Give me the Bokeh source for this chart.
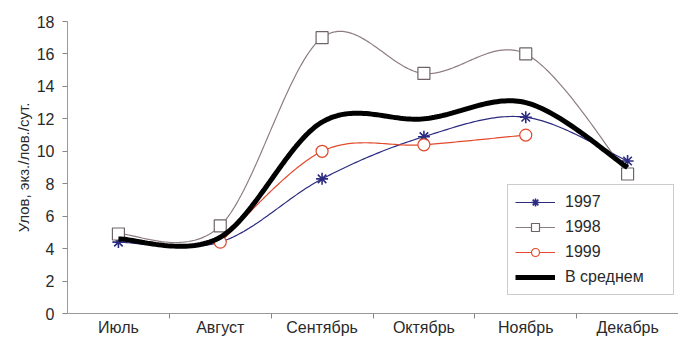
import numpy as np
from bokeh.plotting import figure
from bokeh.models import Range1d, FixedTicker, Legend, LegendItem
from bokeh.embed import file_html
from bokeh.resources import INLINE

months = ["Июль", "Август", "Сентябрь", "Октябрь", "Ноябрь", "Декабрь"]
y1997 = [4.4, 4.4, 8.3, 10.9, 12.1, 9.4]
y1998 = [4.9, 5.4, 17.0, 14.8, 16.0, 8.6]
y1999 = [None, 4.4, 10.0, 10.4, 11.0, None]
avg = [4.6, 4.7, 11.8, 12.0, 13.0, 9.0]
y_ticks = [0, 2, 4, 6, 8, 10, 12, 14, 16, 18]
y_label = "Улов, экз./лов./сут."
names = ["1997", "1998", "1999", "В среднем"]

FONT = "Liberation Sans"


def present(ys):
    xs = [i for i, v in enumerate(ys) if v is not None]
    vs = [v for v in ys if v is not None]
    return xs, vs


def smooth(ys, n=40):
    """Excel-like smoothed line: cubic Bezier with Catmull-Rom control points."""
    xs, vs = present(ys)
    P = [np.array([float(x), float(v)]) for x, v in zip(xs, vs)]
    xs_out, ys_out = [], []
    m = len(P)
    for i in range(m - 1):
        p0 = P[i - 1] if i > 0 else P[i]
        p1 = P[i]
        p2 = P[i + 1]
        p3 = P[i + 2] if i + 2 < m else P[i + 1]
        c1 = p1 + (p2 - p0) / 6.0
        c2 = p2 - (p3 - p1) / 6.0
        t = np.linspace(0, 1, n)[:, None]
        b = ((1 - t) ** 3) * p1 + 3 * ((1 - t) ** 2) * t * c1 + 3 * (1 - t) * t ** 2 * c2 + t ** 3 * p2
        if i > 0:
            b = b[1:]
        xs_out.extend(b[:, 0].tolist())
        ys_out.extend(b[:, 1].tolist())
    return xs_out, ys_out


p = figure(width=678, height=338, output_backend="svg", toolbar_location=None,
           x_range=Range1d(-0.5, 5.5), y_range=Range1d(0, 18),
           min_border_left=67, min_border_right=0, min_border_top=21, min_border_bottom=24)
p.outline_line_color = None
p.xgrid.visible = False
p.ygrid.visible = False
p.background_fill_color = "white"
p.border_fill_color = "white"

# x axis
p.xaxis.ticker = FixedTicker(ticks=list(range(len(months))),
                             minor_ticks=[i + 0.5 for i in range(len(months) - 1)])
p.xaxis.major_label_overrides = {i: m for i, m in enumerate(months)}
p.xaxis.major_tick_line_color = None
p.xaxis.major_tick_out = 0
p.xaxis.major_tick_in = 0
p.xaxis.minor_tick_out = 5
p.xaxis.minor_tick_in = 0
p.xaxis.minor_tick_line_color = "#888888"
p.xaxis.axis_line_color = "#9a9a9a"
p.xaxis.major_label_text_font = FONT
p.xaxis.major_label_text_font_size = "16px"
p.xaxis.major_label_text_color = "#2a2a2a"
p.xaxis.major_label_standoff = 0

# y axis
p.yaxis.ticker = FixedTicker(ticks=y_ticks)
p.yaxis.minor_tick_line_color = None
p.yaxis.major_tick_out = 5
p.yaxis.major_tick_in = 0
p.yaxis.major_tick_line_color = "#888888"
p.yaxis.axis_line_color = "#9a9a9a"
p.yaxis.major_label_text_font = FONT
p.yaxis.major_label_text_font_size = "16px"
p.yaxis.major_label_text_color = "#2a2a2a"
p.yaxis.major_label_standoff = 8
p.yaxis.axis_label = y_label
p.yaxis.axis_label_text_font = FONT
p.yaxis.axis_label_text_font_size = "15px"
p.yaxis.axis_label_text_font_style = "normal"
p.yaxis.axis_label_text_color = "#2a2a2a"
p.yaxis.axis_label_standoff = 2

c97 = "#2b2b80"
c98 = "#8e7c84"
c99 = "#e2492c"

x97, s97 = smooth(y1997)
x98, s98 = smooth(y1998)
x99, s99 = smooth(y1999)
xav, sav = smooth(avg)

px97, pv97 = present(y1997)
px98, pv98 = present(y1998)
px99, pv99 = present(y1999)

l97 = p.line(x97, s97, line_color=c97, line_width=1.2)
m97 = p.scatter(px97, pv97, marker="asterisk", size=12, line_color=c97, line_width=1.6)
l98 = p.line(x98, s98, line_color=c98, line_width=1.2)
m98 = p.scatter(px98, pv98, marker="square", size=12,
                fill_color="white", line_color="#6e6466", line_width=1.2)
l99 = p.line(x99, s99, line_color=c99, line_width=1.2)
m99 = p.scatter(px99, pv99, marker="circle", size=12,
                fill_color="white", line_color=c99, line_width=1.2)
lav = p.line(xav, sav, line_color="black", line_width=5)

legend = Legend(items=[
    LegendItem(label=names[0], renderers=[l97, m97]),
    LegendItem(label=names[1], renderers=[l98, m98]),
    LegendItem(label=names[2], renderers=[l99, m99]),
    LegendItem(label=names[3], renderers=[lav]),
], location=(440, 18))
legend.label_text_font = FONT
legend.label_text_font_size = "16px"
legend.label_text_color = "#2a2a2a"
legend.border_line_color = "#9a9a9a"
legend.border_line_width = 1
legend.background_fill_color = "white"
legend.background_fill_alpha = 1.0
legend.glyph_width = 40
legend.glyph_height = 20
legend.label_height = 20
legend.label_width = 101
legend.spacing = 5
legend.padding = 7
legend.margin = 0
legend.label_standoff = 10
p.add_layout(legend)

open("out.html", "w").write(file_html(p, INLINE))
